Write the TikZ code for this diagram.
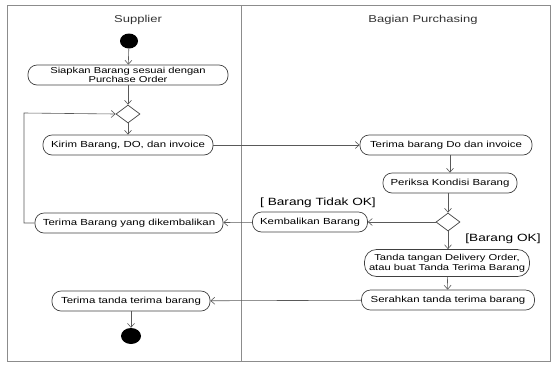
\documentclass[tikz,border=0pt]{standalone}
\usepackage{fontspec}
\setmainfont[FakeStretch=1.3]{Liberation Sans}
\usetikzlibrary{arrows.meta,shapes.geometric}
\begin{document}
\begin{tikzpicture}[x=1pt,y=-1pt,
  act/.style={draw=black!75,line width=0.7pt,rounded corners=9pt,minimum height=20pt,inner sep=1pt,font=\fontsize{8.8}{9.5}\selectfont,align=center},
  dec/.style={draw=black!75,line width=0.7pt,diamond,minimum width=24pt,minimum height=18pt,inner sep=0pt,aspect=1.3},
  dot/.style={fill=black,ellipse,minimum width=18pt,minimum height=15pt,inner sep=0pt},
  flow/.style={draw=black!65,line width=0.6pt,-{Straight Barb[length=4pt,width=7pt]}},
  lane/.style={draw=black!45,line width=0.8pt},
  hdr/.style={font=\fontsize{10}{11}\selectfont,text=black!80},
  guard/.style={font=\fontsize{10.5}{12}\selectfont}]
\useasboundingbox (0,0) rectangle (553,365);
\draw[lane] (7,5) rectangle (550,361);
\draw[lane] (241,5) -- (241,361);
\node[hdr] (h1) at (138,20) {Supplier};
\node[hdr] (h2) at (423,20) {Bagian Purchasing};
\node[dot] (start) at (129,41) {};
\node[act,minimum width=200pt,minimum height=20pt,font=\fontsize{8.6}{8.6}\selectfont] (siap) at (128,75) {Siapkan Barang sesuai dengan\\Purchase Order};
\node[dec] (d1) at (128,114) {};
\node[act,minimum width=170pt] (kirim) at (128,145) {Kirim Barang, DO, dan invoice};
\node[act,minimum width=172pt] (tdo) at (446,145) {Terima barang Do dan invoice};
\node[act,minimum width=134pt] (periksa) at (450,183) {Periksa Kondisi Barang};
\node[dec] (d2) at (448,222) {};
\node[act,minimum width=115pt] (kemb) at (310,222) {Kembalikan Barang};
\node[act,minimum width=188pt] (tyd) at (129,223) {Terima Barang yang dikembalikan};
\node[act,minimum width=165pt,minimum height=27pt,font=\fontsize{8.6}{10}\selectfont,rounded corners=12pt] (ttd) at (447,263) {Tanda tangan Delivery Order,\\atau buat Tanda Terima Barang};
\node[act,minimum width=173pt] (ser) at (448,300) {Serahkan tanda terima barang};
\node[act,minimum width=158pt] (ttb) at (131,301) {Terima tanda terima barang};
\node[dot,minimum width=20pt,minimum height=16pt] (end) at (131,336) {};
\node[guard] (g1) at (318,203) {[ Barang Tidak OK]};
\node[guard] (g2) at (503,239) {[Barang OK]};
\coordinate (c1) at (24,223);
\coordinate (c2) at (24,113);
\draw[flow] (start) -- (siap);
\draw[flow] (siap) -- (d1);
\draw[flow] (d1) -- (kirim);
\draw[flow] (tyd.west) -- (c1) -- (c2) -- (d1.west);
\draw[flow] (kirim) -- (tdo);
\draw[flow] (tdo.south -| periksa) -- (periksa);
\draw[flow] (periksa.south -| d2) -- (d2);
\draw[flow] (d2) -- (kemb);
\draw[flow] (kemb) -- (tyd);
\draw[flow] (d2) -- (ttd.north -| d2);
\draw[flow] (ttd) -- (ser);
\draw[flow] (ser) -- (ttb);
\draw[flow] (ttb) -- (end);
\end{tikzpicture}
\end{document}
